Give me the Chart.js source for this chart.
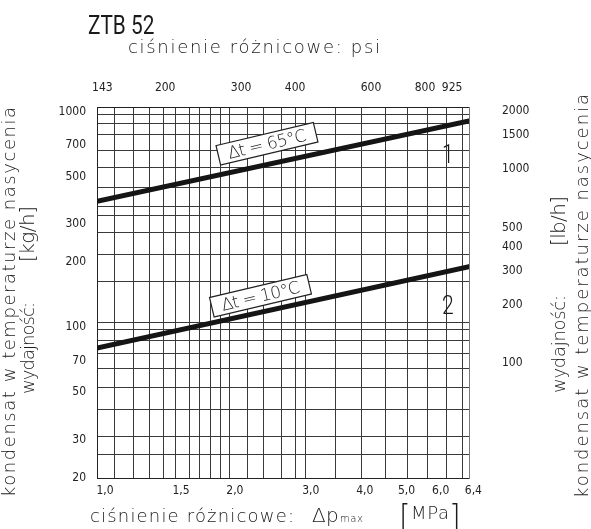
<!DOCTYPE html>
<html>
<head>
<meta charset="utf-8">
<script src="https://cdn.jsdelivr.net/npm/chart.js@4"></script>
<style>
  html, body { margin: 0; padding: 0; background: #fff; }
</style>
</head>
<body>
<canvas id="diagram" width="591" height="529"></canvas>
<script>
// ZTB 52 - wydajność w funkcji ciśnienia różnicowego (odczyt z wykresu)
const mpaTicks = [1.0, 1.5, 2.0, 3.0, 4.0, 5.0, 6.0, 6.4];
const psiTicks = [143, 200, 300, 400, 600, 800, 925];
const kgTicks = [20, 30, 50, 70, 100, 200, 300, 500, 700, 1000];
const lbTicks = [100, 200, 300, 400, 500, 1000, 1500, 2000];

// linie siatki (MPa / kg/h)
const xGridLines = [1.054, 1.163, 1.266, 1.364, 1.46, 1.568, 1.66, 1.758, 1.854, 1.941, 2.137, 2.327, 2.567, 2.771, 2.923, 3.43, 3.936, 4.48, 5.03, 5.597, 6.195, 6.748];
const yGridLines = [25.7, 31, 41.7, 52.8, 64.1, 75.8, 86.7, 97.2, 105, 163, 218, 274, 328, 362, 445, 551, 657, 785, 880, 972];

// krzywe 1 i 2 (od lewej do prawej krawędzi siatki)
const pressure = [0.958, 6.98];
const flow65 = [384, 905];
const flow10 = [80, 191];

// opisy na wykresie
const tagText = ["Δt = 65°C", "Δt = 10°C"];
const tagX = [2.374, 2.293];
const tagY = [709, 140];
const curveNo = ["1", "2"];
const curveNoX = [6.24, 6.24];
const curveNoY = [617, 123];

const narrow = '"Liberation Sans Narrow", "DejaVu Sans Condensed", "Arial Narrow", sans-serif';
const thin = '"DejaVu Sans", sans-serif';
const plain = 'Roboto, "Liberation Sans", sans-serif';

function fixTicks(values) {
  return (scale) => { scale.ticks = values.map(v => ({ value: v })); };
}

// etykieta MPa z przecinkiem; ostatnia odsunięta w prawo jak na oryginale
function mpaLabel(v) {
  const s = Number(v).toFixed(1).replace('.', ',');
  return v === mpaTicks[mpaTicks.length - 1] ? '\u2007'.repeat(6) + s : s;
}

// tekst z rozstawem liter dopasowanym do szerokości
function spaced(ctx, text, x, y, width, rot) {
  ctx.save();
  ctx.translate(x, y);
  if (rot) ctx.rotate(rot);
  ctx.letterSpacing = '0px';
  const w0 = ctx.measureText(text).width;
  const ls = text.length > 1 ? (width - w0) / (text.length - 1) : 0;
  ctx.letterSpacing = ls + 'px';
  ctx.fillText(text, 0, 0);
  ctx.restore();
}

const plotTexts = {
  id: 'plotTexts',
  afterDraw(chart) {
    const ctx = chart.ctx;
    const sx = chart.scales.x;
    const sy = chart.scales.y;
    ctx.save();
    ctx.fillStyle = '#1a1a1a';
    ctx.textAlign = 'left';
    ctx.textBaseline = 'alphabetic';

    ctx.save();
    ctx.translate(88, 34);
    ctx.scale(0.8, 1);
    ctx.font = '26px ' + plain;
    ctx.fillText('ZTB 52', 0, 0);
    ctx.restore();

    ctx.font = '200 18px ' + thin;
    spaced(ctx, 'ciśnienie różnicowe: psi', 128, 53, 252);
    spaced(ctx, 'ciśnienie różnicowe:', 90, 522, 204);
    ctx.font = '200 20px ' + thin;
    ctx.fillText('Δ', 312, 522);
    ctx.fillText('p', 326, 522);
    ctx.font = '200 10px ' + thin;
    spaced(ctx, 'max', 340, 522, 23);
    ctx.font = '200 30px ' + thin;
    ctx.fillText('[', 399, 526);
    ctx.fillText(']', 449, 526);
    ctx.font = '200 18px ' + thin;
    spaced(ctx, 'MPa', 411, 519, 38);

    // opisy osi pionowych
    const up = -Math.PI / 2;
    ctx.font = '200 18px ' + thin;
    spaced(ctx, 'kondensat w temperaturze nasycenia', 15, 497, 390, up);
    spaced(ctx, 'wydajność:', 34, 394, 92, up);
    spaced(ctx, 'wydajność:', 565, 393, 98, up);
    spaced(ctx, 'kondensat w temperaturze nasycenia', 588, 498, 404, up);
    ctx.font = '200 20px ' + thin;
    spaced(ctx, '[kg/h]', 34, 262, 56, up);
    spaced(ctx, '[lb/h]', 565, 246, 50, up);

    // ramki z opisem krzywych
    const ang = Math.atan2(
      sy.getPixelForValue(flow65[1]) - sy.getPixelForValue(flow65[0]),
      sx.getPixelForValue(pressure[1]) - sx.getPixelForValue(pressure[0]));
    tagText.forEach((t, i) => {
      ctx.save();
      ctx.translate(sx.getPixelForValue(tagX[i]), sy.getPixelForValue(tagY[i]));
      ctx.rotate(ang - 0.02);
      ctx.fillStyle = '#fff';
      ctx.fillRect(-50, -10, 100, 20);
      ctx.strokeStyle = '#222';
      ctx.lineWidth = 1.2;
      ctx.strokeRect(-50, -10, 100, 20);
      ctx.fillStyle = '#1a1a1a';
      ctx.font = '200 17px ' + thin;
      spaced(ctx, t, -40, 6, 80);
      ctx.restore();
    });

    // numery krzywych
    ctx.font = '300 25px ' + plain;
    ctx.textAlign = 'center';
    ctx.textBaseline = 'middle';
    curveNo.forEach((n, i) => {
      ctx.save();
      ctx.translate(sx.getPixelForValue(curveNoX[i]), sy.getPixelForValue(curveNoY[i]));
      ctx.scale(0.85, 1);
      ctx.fillText(n, 0, 0);
      ctx.restore();
    });
    ctx.restore();
  }
};

const curveStyle = {
  borderColor: '#151515',
  borderWidth: 5,
  pointRadius: 0,
  borderCapStyle: 'round',
  xAxisID: 'x',
  yAxisID: 'y'
};

const tickFont = { family: narrow, size: 12 };

const canvas = document.getElementById('diagram');
const chart = new Chart(canvas, {
  type: 'line',
  data: {
    datasets: [
      Object.assign({ label: tagText[0], data: pressure.map((p, i) => ({ x: p, y: flow65[i] })) }, curveStyle),
      Object.assign({ label: tagText[1], data: pressure.map((p, i) => ({ x: p, y: flow10[i] })) }, curveStyle)
    ]
  },
  options: {
    responsive: false,
    devicePixelRatio: 1,
    animation: false,
    layout: { padding: 0 },
    plugins: { legend: { display: false }, tooltip: { enabled: false }, title: { display: false } },
    scales: {
      x: {
        type: 'logarithmic', position: 'bottom', min: 0.958, max: 6.98,
        afterBuildTicks: fixTicks(mpaTicks),
        afterFit: (s) => { s.height = 51; },
        grid: { display: false, drawTicks: false },
        border: { display: true, color: '#222', width: 1 },
        ticks: {
          autoSkip: false, maxRotation: 0, padding: 6, color: '#222', font: tickFont,
          callback: mpaLabel
        }
      },
      xTop: {
        type: 'logarithmic', position: 'top', min: 139, max: 1012,
        afterBuildTicks: fixTicks(psiTicks),
        afterFit: (s) => { s.height = 107; },
        grid: { display: false, drawTicks: false },
        border: { display: true, color: '#222', width: 1 },
        ticks: {
          autoSkip: false, maxRotation: 0, padding: 12, color: '#222', font: tickFont,
          callback: (v) => String(v)
        }
      },
      y: {
        type: 'logarithmic', position: 'left', min: 20, max: 1050,
        afterBuildTicks: fixTicks(kgTicks),
        afterFit: (s) => { s.width = 97; },
        grid: { display: false, drawTicks: false },
        border: { display: true, color: '#222', width: 1 },
        ticks: {
          autoSkip: false, padding: 11, color: '#222', font: tickFont,
          callback: (v) => String(v)
        }
      },
      yRight: {
        type: 'logarithmic', position: 'right', min: 25.6, max: 2097,
        afterBuildTicks: fixTicks(lbTicks),
        afterFit: (s) => { s.width = 122; },
        grid: { display: false, drawTicks: false },
        border: { display: true, color: '#777', width: 1 },
        ticks: {
          autoSkip: false, padding: 33, color: '#222', font: tickFont,
          callback: (v) => String(v)
        }
      },
      xGrid: {
        type: 'logarithmic', position: 'bottom', min: 0.958, max: 6.98,
        afterBuildTicks: fixTicks(xGridLines),
        afterFit: (s) => { s.height = 0; },
        grid: { color: '#3a3a3a', lineWidth: 1, drawTicks: false },
        border: { display: false },
        ticks: { display: false }
      },
      yGrid: {
        type: 'logarithmic', position: 'left', min: 20, max: 1050,
        afterBuildTicks: fixTicks(yGridLines),
        afterFit: (s) => { s.width = 0; },
        grid: { color: '#3a3a3a', lineWidth: 1, drawTicks: false },
        border: { display: false },
        ticks: { display: false }
      }
    }
  },
  plugins: [plotTexts]
});
</script>
</body>
</html>
